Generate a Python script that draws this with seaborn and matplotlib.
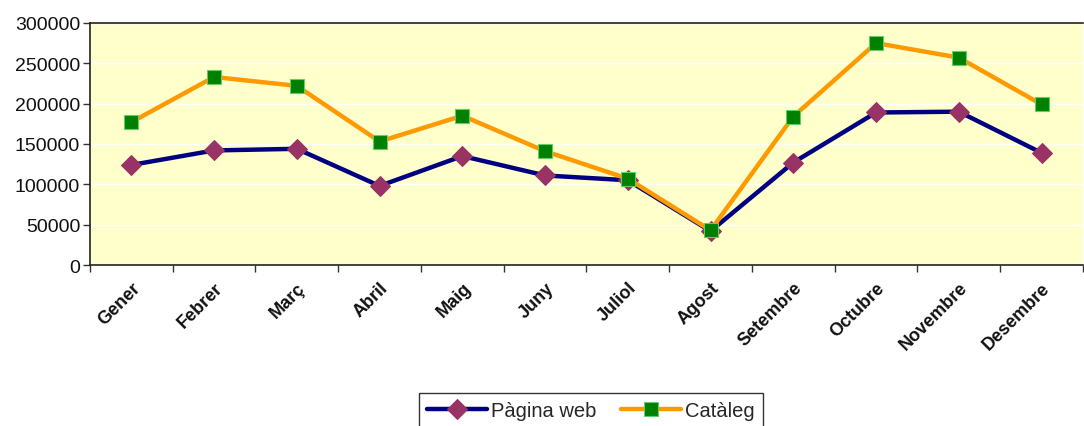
import matplotlib
matplotlib.use("Agg")
import matplotlib.pyplot as plt
import seaborn as sns
import pandas as pd
import numpy as np

months = ["Gener", "Febrer", "Març", "Abril", "Maig", "Juny", "Juliol",
          "Agost", "Setembre", "Octubre", "Novembre", "Desembre"]
pagina_web = [124000, 142000, 144000, 98000, 135000, 111000, 105000,
              42000, 127000, 189000, 190000, 139000]
cataleg = [177000, 233000, 222000, 153000, 185000, 141000, 107000,
           43000, 184000, 275000, 257000, 199000]
yticks = [0, 50000, 100000, 150000, 200000, 250000, 300000]

sns.set_theme(style="white")
plt.rcParams['font.family'] = ['Liberation Sans', 'DejaVu Sans']

df = pd.DataFrame({"x": np.arange(len(months)), "mes": months,
                   "Pàgina web": pagina_web, "Catàleg": cataleg})

fig = plt.figure(figsize=(10.84, 4.27), dpi=100)
ax = fig.add_axes([0.083, 0.377, 0.916, 0.567])
ax.set_facecolor("#FFFFCC")

sns.lineplot(data=df, x="x", y="Pàgina web", ax=ax, color="#000080", lw=3.2,
             marker="D", markersize=10, markerfacecolor="#993366",
             markeredgecolor="#993366", label="Pàgina web", zorder=3)
sns.lineplot(data=df, x="x", y="Catàleg", ax=ax, color="#FF9900", lw=3.2,
             marker="s", markersize=10, markerfacecolor="#008000",
             markeredgecolor="#66CC66", markeredgewidth=0.8, label="Catàleg", zorder=4)

ax.set_xlim(-0.5, len(months) - 0.5)
ax.set_ylim(0, 300000)
ax.set_yticks(yticks)
ax.set_yticklabels([str(v) for v in yticks], fontsize=14, color="#111111")
ax.yaxis.grid(True, color="white", lw=1)
ax.set_axisbelow(True)

ax.set_xticks(np.arange(len(months)))
ax.set_xticklabels(months, rotation=45, ha="right", rotation_mode="anchor",
                   fontsize=13, fontweight="bold", color="#111111")
ax.set_xticks(np.arange(-0.5, len(months), 1.0), minor=True)
ax.tick_params(axis="x", which="major", length=0, pad=10)
ax.tick_params(axis="x", which="minor", length=5, width=1, color="#333333", direction="out", bottom=True)
ax.tick_params(axis="y", which="major", length=5, width=1, color="#333333", direction="out", left=True, pad=2)
ax.set_xlabel("")
ax.set_ylabel("")

for s in ["left", "bottom", "top"]:
    ax.spines[s].set_visible(True)
    ax.spines[s].set_color("#222222")
    ax.spines[s].set_linewidth(1.2)
ax.spines["right"].set_visible(False)

ax.legend_.remove()
handles, labels = ax.get_legend_handles_labels()
leg = fig.legend(handles, labels, loc="upper center", bbox_to_anchor=(0.545, 0.077),
                 ncol=2, fontsize=14.5, frameon=True, fancybox=False, handlelength=3,
                 columnspacing=1.2, handletextpad=0.2, borderpad=0.4, borderaxespad=0)
leg.get_frame().set_edgecolor("black")
leg.get_frame().set_linewidth(1)

fig.savefig("out.png", dpi=100)
